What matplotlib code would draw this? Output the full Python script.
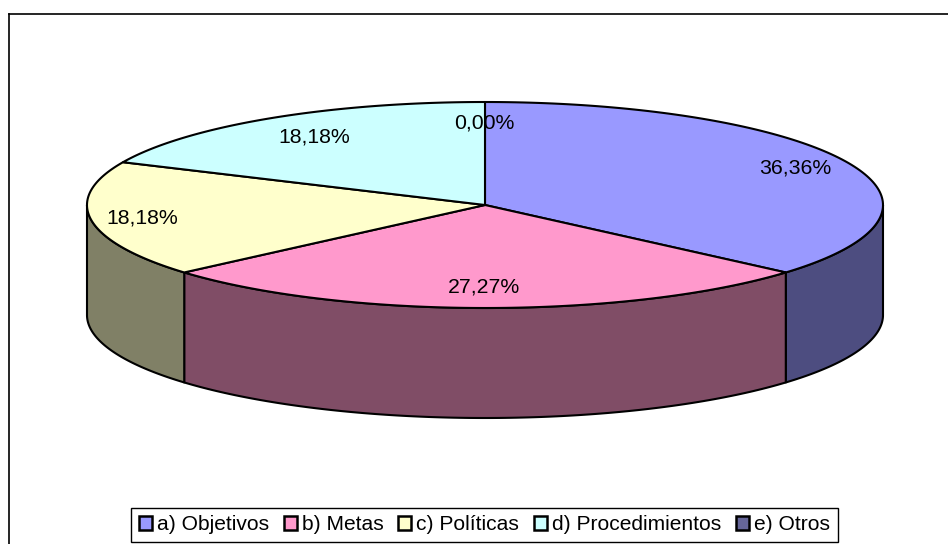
import matplotlib
matplotlib.use("Agg")
import matplotlib.pyplot as plt
import numpy as np
from matplotlib.patches import Polygon, Patch

categories = ["a) Objetivos", "b) Metas", "c) Políticas", "d) Procedimientos", "e) Otros"]
values = [36.36, 27.27, 18.18, 18.18, 0.0]
colors = ["#9999FF", "#FF99CC", "#FFFFCC", "#CCFFFF", "#666699"]
side_colors = ["#4D4D80", "#804D66", "#808066", "#668080", "#33334D"]

plt.rcParams["font.family"] = ["Liberation Sans", "DejaVu Sans"]
FS = 15

# pie geometry in pixels
cx, cy = 485, 205
rx, ry = 398, 103
depth = 110
lw = 1.5
label_r = [0.86, 0.80, 0.87, 0.79, 0.80]
label_dx = [-1, -1, 0, -1, -1]

fig = plt.figure(figsize=(9.48, 5.44), dpi=100)
ax = fig.add_axes([0, 0, 1, 1])
ax.set_xlim(0, 948)
ax.set_ylim(544, 0)
ax.axis("off")

# chart frame, right and bottom sides fall off the picture
ax.plot([9.5, 9.5], [544, 14], color="black", lw=1.2)
ax.plot([9.5, 948], [14, 14], color="black", lw=1.2)


def rim(a0, a1, n=120):
    # angles clockwise from the top, degrees
    t = np.radians(np.linspace(a0, a1, n))
    return cx + rx * np.sin(t), cy - ry * np.cos(t)


bounds = np.concatenate([[0], np.cumsum(values)]) / sum(values) * 360

# sides first, only the front half shows
for i in range(len(values)):
    a0, a1 = max(bounds[i], 90), min(bounds[i + 1], 270)
    if a1 <= a0:
        continue
    x, y = rim(a0, a1)
    pts = np.column_stack([np.r_[x, x[::-1]], np.r_[y, y[::-1] + depth]])
    ax.add_patch(Polygon(pts, closed=True, facecolor=side_colors[i], edgecolor="black", lw=lw, joinstyle="round"))

# top of the pie
for i in range(len(values)):
    if values[i] == 0:
        continue
    x, y = rim(bounds[i], bounds[i + 1])
    pts = np.column_stack([np.r_[cx, x], np.r_[cy, y]])
    ax.add_patch(Polygon(pts, closed=True, facecolor=colors[i], edgecolor="black", lw=lw, joinstyle="round"))

# percentage labels
for i in range(len(values)):
    mid = np.radians((bounds[i] + bounds[i + 1]) / 2)
    if values[i] == 0:
        mid = np.radians(bounds[i])
    lx = cx + rx * label_r[i] * np.sin(mid) + label_dx[i]
    ly = cy - ry * label_r[i] * np.cos(mid)
    txt = f"{values[i]:.2f}%".replace(".", ",")
    ax.text(lx, ly, txt, ha="center", va="center", fontsize=FS + 0.3, color="black")

handles = [Patch(facecolor=c, edgecolor="black", lw=1.8) for c in colors]
leg = ax.legend(handles, categories, ncol=5, loc="center", bbox_to_anchor=(484.3, 525),
                bbox_transform=ax.transData, fontsize=FS + 0.1, frameon=True, fancybox=False,
                edgecolor="black", framealpha=1, handlelength=0.62, handleheight=0.6,
                handletextpad=0.22, columnspacing=0.72, borderpad=0.38, borderaxespad=0, labelspacing=0)
leg.get_frame().set_linewidth(1.0)

fig.savefig("out.png", dpi=100)
